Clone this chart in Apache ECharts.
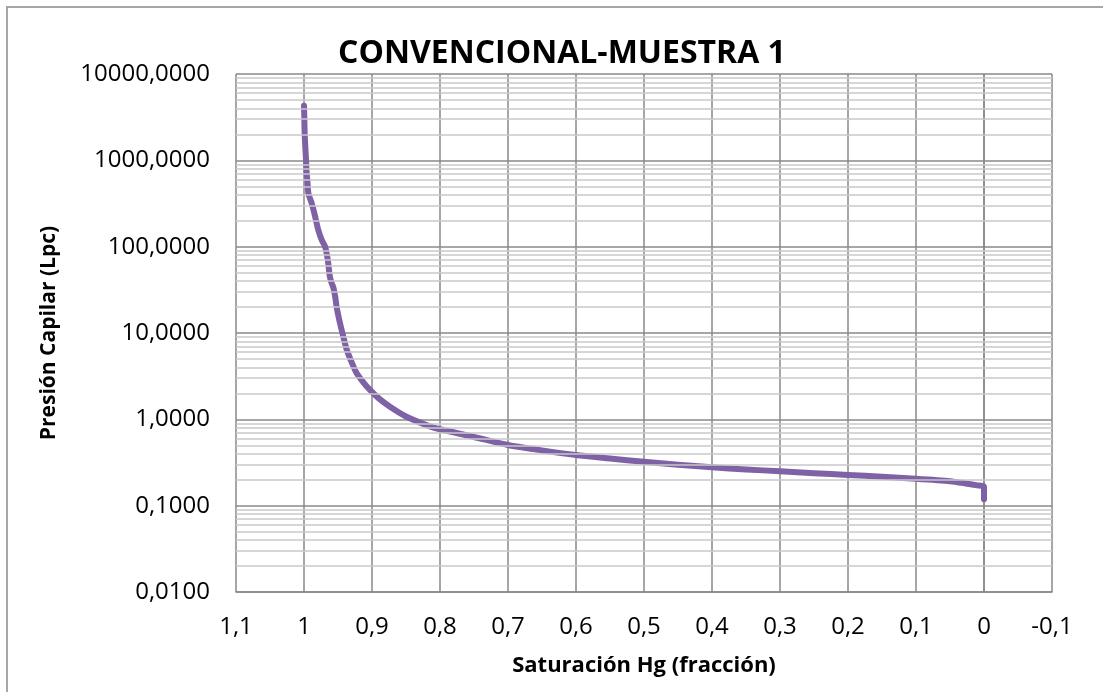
<!DOCTYPE html>
<html>
<head>
<meta charset="utf-8">
<script src="https://cdn.jsdelivr.net/npm/echarts@6/dist/echarts.min.js"></script>
<style>
html,body{margin:0;padding:0;background:#fff;}
#c{width:1103px;height:692px;}
</style>
</head>
<body>
<div id="c"></div>
<script>
// Saturation Hg (fraction) and capillary pressure (Lpc)
var saturacion = [1.000, 0.9995, 0.999, 0.998, 0.997, 0.996, 0.9951, 0.9936, 0.9905, 0.9887, 0.984, 0.979, 0.974, 0.969, 0.965, 0.962, 0.9595, 0.957, 0.954, 0.952, 0.948, 0.9446, 0.941, 0.937, 0.930, 0.9225, 0.913, 0.903, 0.890, 0.8735, 0.850, 0.815, 0.800, 0.750, 0.700, 0.650, 0.600, 0.550, 0.500, 0.450, 0.400, 0.350, 0.300, 0.250, 0.200, 0.150, 0.100, 0.050, 0.027, 0.010, 0.000, 0.000, 0.000];
var presion = [4300, 3000, 2000, 1400, 1000, 700, 590, 415, 350, 318, 230, 156, 120, 100, 70, 45, 38, 34, 26, 20, 14, 10.8, 8.3, 6.35, 4.6, 3.41, 2.7, 2.19, 1.75, 1.40, 1.08, 0.83, 0.767, 0.625, 0.505, 0.437, 0.386, 0.352, 0.322, 0.298, 0.278, 0.263, 0.250, 0.238, 0.227, 0.216, 0.205, 0.192, 0.181, 0.172, 0.165, 0.140, 0.119];
var titulo = 'CONVENCIONAL-MUESTRA 1';
var ejeX = 'Saturación Hg (fracción)';
var ejeY = 'Presión Capilar (Lpc)';
var decadas = [0.01, 0.1, 1, 10, 100, 1000];
var multiplos = [2, 3, 4, 5, 6, 7, 8, 9];

var puntos = saturacion.map(function (s, i) { return [s, presion[i]]; });
var menores = [];
decadas.forEach(function (d) {
  multiplos.forEach(function (m) { menores.push({ yAxis: +(d * m).toPrecision(6) }); });
});

var font = '"Open Sans", "Noto Sans", sans-serif';
var chart = echarts.init(document.getElementById('c'), null, { renderer: 'canvas' });
chart.setOption({
  backgroundColor: '#ffffff',
  animation: false,
  title: {
    text: titulo,
    left: 557, top: 33, textAlign: 'center',
    textStyle: { fontFamily: font, fontSize: 32, fontWeight: 'bold', color: '#000' }
  },
  graphic: [{
    type: 'rect', silent: true, z: -10,
    shape: { x: 7, y: 7, width: 1120, height: 720 },
    style: { fill: 'none', stroke: '#a6a6a6', lineWidth: 2 }
  }],
  grid: { left: 236, right: 51, top: 74, bottom: 100, containLabel: false },
  xAxis: {
    type: 'value', inverse: true, min: -0.1, max: 1.1, interval: 0.1,
    name: ejeX, nameLocation: 'middle', nameGap: 63,
    nameTextStyle: { fontFamily: font, fontSize: 22, fontWeight: 'bold', color: '#000' },
    axisLine: { show: true, lineStyle: { color: '#898989', width: 1.5 } },
    axisTick: { show: false },
    axisLabel: {
      margin: 23, fontFamily: font, fontSize: 24, color: '#000',
      formatter: function (v) { var r = Math.round(v * 10) / 10; if (r === 0) r = 0; return String(r).replace('.', ','); }
    },
    splitLine: { show: true, lineStyle: { color: '#898989', width: 1.5 } }
  },
  yAxis: {
    type: 'log', logBase: 10, min: 0.01, max: 10000, splitNumber: 6,
    name: ejeY, nameLocation: 'middle', nameGap: 176, nameRotate: 90,
    nameTextStyle: { fontFamily: font, fontSize: 21, fontWeight: 'bold', color: '#000' },
    axisLine: { show: true, lineStyle: { color: '#898989', width: 1.5 } },
    axisTick: { show: false },
    axisLabel: {
      margin: 26, fontFamily: font, fontSize: 24, color: '#000',
      formatter: function (v) { return Number(v).toFixed(4).replace('.', ','); }
    },
    splitLine: { show: true, lineStyle: { color: '#898989', width: 1.5 } },
    minorTick: { show: false }, minorSplitLine: { show: false }
  },
  series: [{
    type: 'line', z: 1, data: [], silent: true,
    markLine: {
      silent: true, symbol: 'none', animation: false,
      label: { show: false },
      lineStyle: { color: '#c9c9c9', width: 1.5, type: 'solid' },
      data: menores
    }
  }, {
    type: 'line', z: 3, data: puntos, showSymbol: false, smooth: 0.25,
    lineStyle: { color: '#7f62a6', width: 6, cap: 'round', join: 'round' },
    itemStyle: { color: '#7f62a6' }
  }]
});
</script>
</body>
</html>
